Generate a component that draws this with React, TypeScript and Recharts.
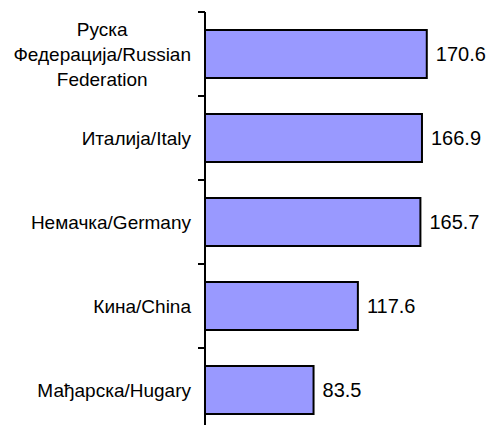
import React from 'react';
import { BarChart, Bar, XAxis, YAxis, LabelList } from 'recharts';

const countries = [
  'Руска\nФедерација/Russian\nFederation',
  'Италија/Italy',
  'Немачка/Germany',
  'Кина/China',
  'Мађарска/Hugary',
];
const values = [170.6, 166.9, 165.7, 117.6, 83.5];

const data = countries.map((name, i) => ({ name, value: values[i] }));

const FONT = "'Liberation Sans', Arial, sans-serif";
const LABEL_SIZE = 19;

let ctx: CanvasRenderingContext2D | null = null;
const textWidth = (s: string) => {
  if (!ctx) ctx = document.createElement('canvas').getContext('2d');
  if (!ctx) return s.length * 9;
  ctx.font = `${LABEL_SIZE}px ${FONT}`;
  return ctx.measureText(s).width;
};

// tick marks sit on the band boundaries, labels are right-aligned blocks
const CategoryTick = (props: any) => {
  const { x, y, payload } = props;
  const band = 84;
  const lines: string[] = String(payload.value).split('\n');
  const right = x - 14;
  const blockW = Math.max(...lines.map(textWidth));
  const cx = right - blockW / 2;
  const lh = 25;
  const start = y - ((lines.length - 1) * lh) / 2;
  return (
    <g>
      <line x1={x - 7} x2={x} y1={y - band / 2} y2={y - band / 2} stroke="#000" strokeWidth={2} />
      <text
        x={cx}
        y={start}
        textAnchor="middle"
        dominantBaseline="central"
        fontSize={LABEL_SIZE}
        fontFamily={FONT}
        fill="#000"
      >
        {lines.map((l, i) => (
          <tspan key={i} x={cx} y={start + i * lh} dominantBaseline="central">
            {l}
          </tspan>
        ))}
      </text>
    </g>
  );
};

export default function App() {
  return (
    <div style={{ position: 'absolute', left: 0, top: 0, width: 492, height: 425, overflow: 'hidden', background: '#fff' }}>
      <BarChart
        width={492}
        height={440}
        data={data}
        layout="vertical"
        margin={{ top: 12, right: 27, bottom: 8, left: 0 }}
        barCategoryGap="21.4%"
      >
        <XAxis type="number" domain={[0, 200]} hide />
        <YAxis
          type="category"
          dataKey="name"
          width={205}
          axisLine={{ stroke: '#000', strokeWidth: 2 }}
          tickLine={false}
          tickSize={0}
          tickMargin={0}
          tick={<CategoryTick />}
          interval={0}
        />
        <Bar dataKey="value" fill="#9999FF" stroke="#000" strokeWidth={2} isAnimationActive={false}>
          <LabelList
            dataKey="value"
            position="right"
            offset={9}
            fill="#000"
            fontSize={20}
            fontFamily={FONT}
            formatter={(v: any) => Number(v).toFixed(1)}
          />
        </Bar>
      </BarChart>
    </div>
  );
}
